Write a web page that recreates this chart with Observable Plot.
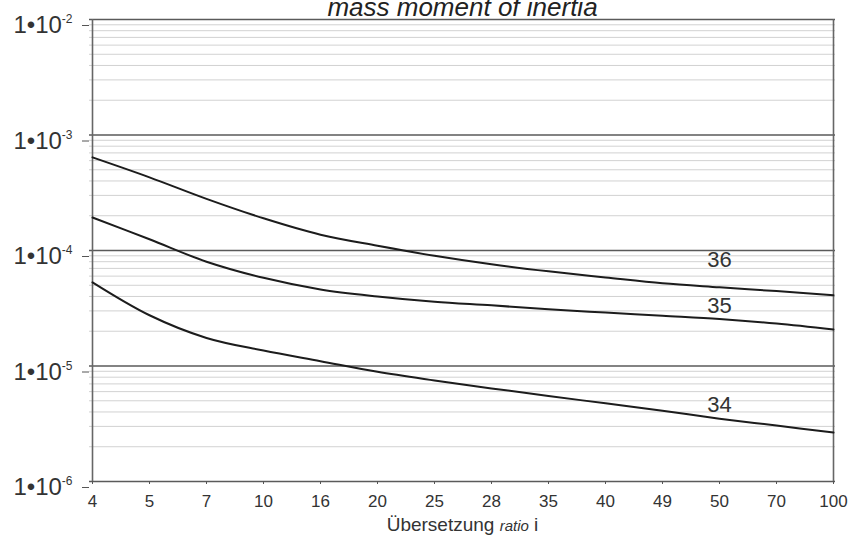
<!DOCTYPE html>
<html><head><meta charset="utf-8">
<script src="https://cdn.jsdelivr.net/npm/d3@7"></script>
<script src="https://cdn.jsdelivr.net/npm/@observablehq/plot@0.6"></script>
<style>
body{margin:0;background:#fff;font-family:"Liberation Sans",Arial,sans-serif}
#chart svg{display:block}
</style>
</head><body><div id="chart"></div>
<script>
// Categories (gear ratio i), equally spaced
const ratios = ["4","5","7","10","16","20","25","28","35","40","49","50","70","100"];
// Mass moment of inertia per size
const size36 = [6.4e-4,4.3e-4,2.8e-4,1.9e-4,1.37e-4,1.1e-4,9.0e-5,7.6e-5,6.6e-5,5.85e-5,5.2e-5,4.8e-5,4.45e-5,4.1e-5];
const size35 = [1.93e-4,1.25e-4,8.0e-5,5.8e-5,4.6e-5,4.0e-5,3.6e-5,3.35e-5,3.1e-5,2.9e-5,2.72e-5,2.55e-5,2.33e-5,2.07e-5];
const size34 = [5.3e-5,2.75e-5,1.75e-5,1.36e-5,1.1e-5,8.9e-6,7.5e-6,6.4e-6,5.5e-6,4.75e-6,4.1e-6,3.5e-6,3.05e-6,2.65e-6];
const seriesNames = ["36","35","34"];
const labelRatio = "50";
const labelValues = [8.3e-5, 3.3e-5, 4.6e-6];
const yMajor = [1e-6,1e-5,1e-4,1e-3,1e-2];
const yExponents = ["-6","-5","-4","-3","-2"];
const titleText = "mass moment of inertia";
const xLabelParts = ["Übersetzung ", "ratio", " i"];

const seriesValues = [size36, size35, size34];
const data = seriesNames.flatMap((s, k) => ratios.map((r, i) => ({series: s, ratio: r, value: seriesValues[k][i]})));
const labels = seriesNames.map((s, k) => ({series: s, ratio: labelRatio, value: labelValues[k]}));
const yMinor = [];
for (let k = 0; k < yMajor.length - 1; k++) for (let m = 2; m <= 9; m++) yMinor.push(yMajor[k] * m);

const chart = Plot.plot({
  width: 859, height: 535,
  marginLeft: 89, marginRight: 24, marginTop: 19, marginBottom: 54,
  style: {fontFamily: '"Liberation Sans", Arial, sans-serif', background: "#fff", color: "#333"},
  x: {type: "point", domain: ratios, padding: 0},
  y: {type: "log", domain: [1e-6, 1e-2]},
  marks: [
    Plot.ruleY(yMinor, {stroke: "#d2d2d2", strokeWidth: 1}),
    Plot.ruleY(yMajor, {stroke: "#5a5a5a", strokeWidth: 1.6}),
    Plot.ruleX([ratios[0], ratios[ratios.length - 1]], {stroke: "#666", strokeWidth: 1.6}),
    Plot.line(data, {x: "ratio", y: "value", z: "series", curve: "catmull-rom", stroke: "#1c1c1c", strokeWidth: 2}),
    Plot.text(labels, {x: "ratio", y: "value", text: "series", fontSize: 22, fill: "#333"}),
    Plot.axisY(yMajor, {tickSize: 7, tickPadding: 10, fontSize: 24, dy: 6, tickFormat: () => "1•10", label: null, stroke: "#555"}),
    Plot.axisX({tickSize: 3, tickPadding: 10, fontSize: 17, label: null, stroke: "#555"}),
    Plot.text([titleText], {frameAnchor: "top", lineAnchor: "bottom", dy: -4, fontSize: 26, fontStyle: "italic", fill: "#222"}),
    Plot.text([xLabelParts.join("")], {frameAnchor: "bottom", lineAnchor: "bottom", dy: 49, fontSize: 19, fill: "#333"})
  ]
});
document.getElementById("chart").appendChild(chart);

// superscript exponents on y tick labels
const svg = d3.select(chart);
svg.selectAll('g[aria-label="y-axis tick label"] text').each(function(d, i) {
  const t = d3.select(this);
  t.text("1•10");
  t.append("tspan").attr("dy", -10).attr("font-size", 12).text(yExponents[i]);
});
// mixed-style x label
svg.selectAll('g[aria-label="text"] text').filter(function() { return this.textContent === xLabelParts.join(""); }).each(function() {
  const t = d3.select(this);
  t.text(null);
  t.append("tspan").text(xLabelParts[0]);
  t.append("tspan").attr("font-style", "italic").attr("font-size", 15).text(xLabelParts[1]);
  t.append("tspan").text(xLabelParts[2]);
});
</script>
</body></html>
